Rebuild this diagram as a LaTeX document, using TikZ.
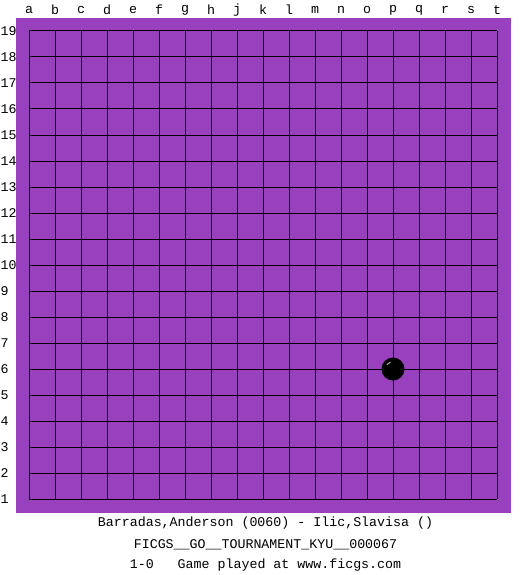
\documentclass[tikz,border=0pt]{standalone}
\usepackage{fontspec}
\setmonofont{Liberation Mono}
\definecolor{board}{RGB}{153,64,191}
\tikzset{
  lbl/.style={font=\ttfamily\fontsize{13.3}{14}\selectfont, inner sep=0pt, text=black},
  gridline/.style={draw=black, line width=1pt},
  stone/.style={fill=black}
}
\begin{document}
\begin{tikzpicture}[x=1pt,y=-1pt]
\useasboundingbox (0,0) rectangle (525,575);
\fill[white] (0,0) rectangle (525,575);
\fill[board] (16,18) rectangle (511,513);
\foreach \i in {0,...,18} {
  \draw[gridline] (29+26*\i,31) -- (29+26*\i,499);
  \draw[gridline] (29,31+26*\i) -- (497,31+26*\i);
}
\foreach \lt [count=\i from 0] in {a,b,c,d,e,f,g,h,j,k,l,m,n,o,p,q,r,s,t} {
  \node[lbl] (col\i) at (29+26*\i,10) {\lt};
}
\foreach \n in {19,18,...,1} {
  \node[lbl, anchor=west] (row\n) at (0.5,31+26*19-26*\n) {\n};
}
\fill[stone] (393,369) circle (11.5);
\draw[gray!60, line width=1pt] (393,369) ++(215:7.5) arc (215:250:7.5);
\node[lbl] (players) at (265.5,523) {Barradas,Anderson (0060) - Ilic,Slavisa ()};
\node[lbl] (event) at (265.5,545) {FICGS\_\_GO\_\_TOURNAMENT\_KYU\_\_000067};
\node[lbl] (result) at (265.5,565) {1-0\ \ \ Game played at www.ficgs.com};
\end{tikzpicture}
\end{document}
